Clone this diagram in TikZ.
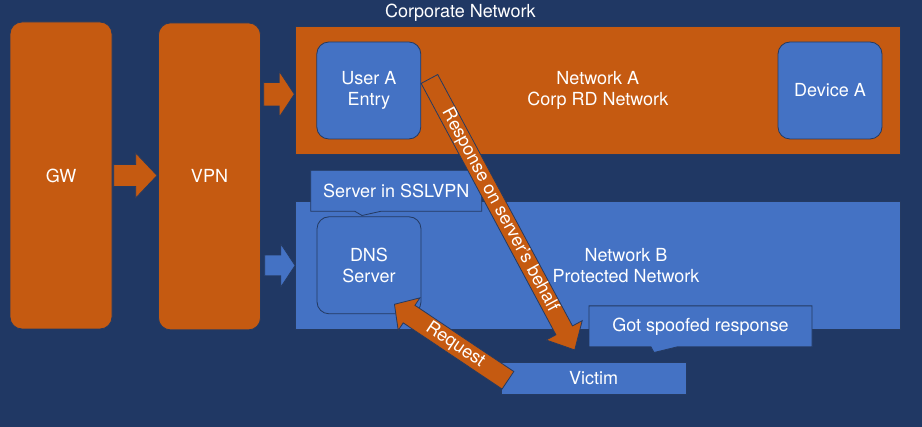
\documentclass[tikz,border=0pt]{standalone}
\usepackage{fontspec}
\setmainfont{TeX Gyre Heros}
\usetikzlibrary{shapes.arrows,shapes.callouts,positioning}
\definecolor{bgnavy}{RGB}{32,56,100}
\definecolor{rdorange}{RGB}{197,90,17}
\definecolor{netblue}{RGB}{68,114,196}
\definecolor{rimline}{RGB}{36,58,98}
\tikzset{
  every node/.style={text=white,font=\fontsize{18}{21}\selectfont,align=center},
  obox/.style={draw=rimline,line width=0.8pt,fill=rdorange,rounded corners=12pt,minimum width=102pt,minimum height=307pt},
  bbox/.style={draw=rimline,line width=0.8pt,fill=netblue,rounded corners=12pt,minimum width=104pt,minimum height=97pt},
  zone/.style={draw=rimline,line width=0.8pt,minimum width=605pt,minimum height=128pt},
  tag/.style={rectangle callout,draw=rimline,line width=0.8pt,fill=netblue,minimum height=41pt,callout pointer width=26pt},
  fat/.style={single arrow,draw=rimline,line width=0.8pt,fill=rdorange,inner sep=1pt,single arrow head indent=0pt}
}
\begin{document}
\begin{tikzpicture}[x=1pt,y=-1pt]
\fill[bgnavy] (0,0) rectangle (922,427);
\useasboundingbox (0,0) rectangle (922,427);
\node[obox] (gw) at (61,175.5) {GW};
\node[obox] (vpn) at (209.5,176.4) {VPN};
\node[zone,fill=rdorange] (neta) at (597.8,90) {Network A\\Corp RD Network};
\node[zone,fill=netblue] (netb) at (598.3,265) {};
\node (netblabel) at (626,265.5) {Network B\\Protected Network};
\node (corplabel) at (460.3,12.3) {Corporate Network};
\node[bbox] (usera) at (368.8,90.5) {User A\\Entry};
\node[bbox] (devicea) at (830,90.5) {Device A};
\node[bbox] (dns) at (369,265.3) {DNS\\Server};
\node[tag,minimum width=171pt,callout absolute pointer={(362,215.5)}] (sslvpn) at (396.2,190.8) {Server in SSLVPN};
\node[tag,minimum width=223pt,callout absolute pointer={(654,352.5)}] (spoofed) at (700.5,326.4) {Got spoofed response};
\node[draw=rimline,line width=0.8pt,fill=netblue,minimum width=185pt,minimum height=32.5pt] (victim) at (593.5,378.2) {Victim};
\node[fat,anchor=tail,text height=19.4pt,text depth=0pt,minimum height=43.4pt,single arrow head extend=11.5pt,single arrow tip angle=93] (gwarrow) at (113.3,175.5) {};
\node[fat,anchor=tail,text height=20.7pt,text depth=0pt,minimum height=30.7pt,single arrow head extend=11.2pt,single arrow tip angle=113] (aarrow) at (263.3,94.2) {};
\node[fat,anchor=tail,fill=netblue,text height=18pt,text depth=0pt,minimum height=30.4pt,single arrow head extend=11.2pt,single arrow tip angle=113] (barrow) at (264.3,265.5) {};
\node[fat,anchor=tip,rotate=-61.8,text height=12.5pt,text depth=3.5pt,minimum height=307.5pt,single arrow head extend=11pt,single arrow tip angle=85] (response) at (575,350.5) {Response on server's behalf};
\node[fat,anchor=tip,rotate=-33.8,shape border rotate=180,text height=13.8pt,text depth=4.5pt,minimum height=136.6pt,single arrow head extend=9pt,single arrow tip angle=96] (request) at (394,304) {Request};
\end{tikzpicture}
\end{document}
